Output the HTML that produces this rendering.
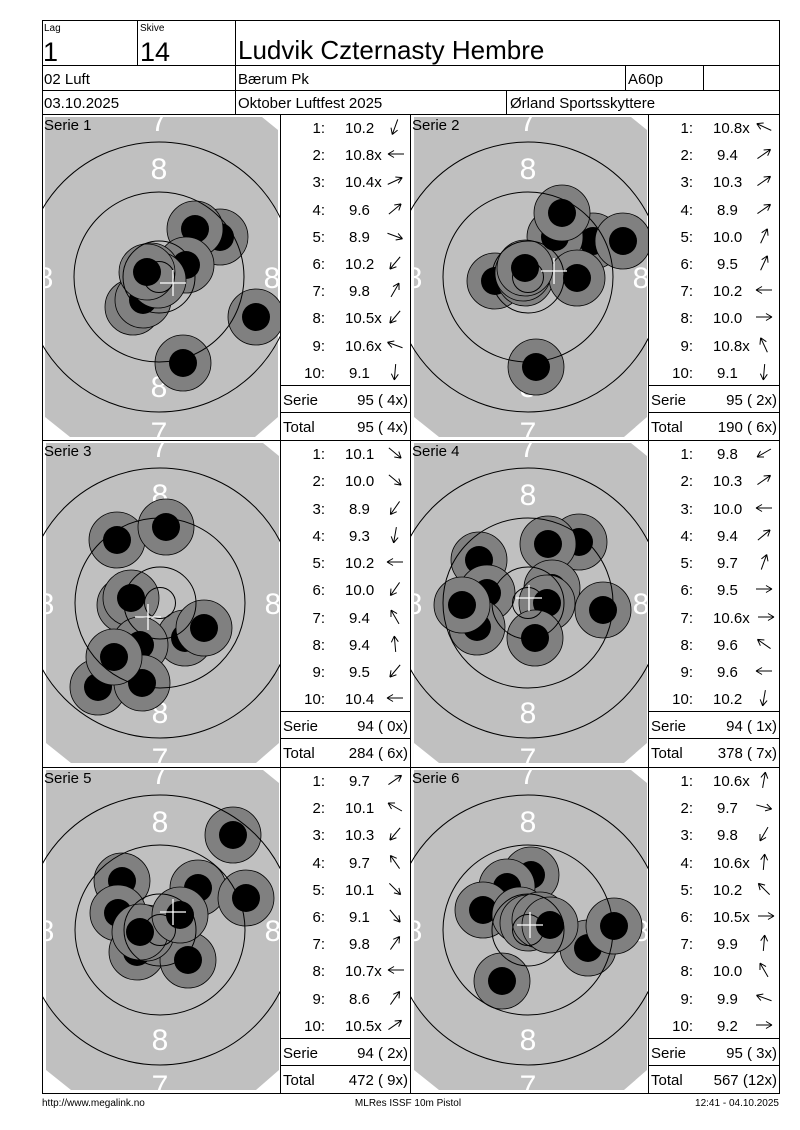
<!DOCTYPE html>
<html><head><meta charset="utf-8"><style>
body{margin:0;background:#fff}
svg{display:block;font-family:"Liberation Sans",sans-serif}
.t{font-size:15px}
.w{fill:#fff;font-size:30px;text-anchor:middle}
</style></head><body>
<svg width="800" height="1130" viewBox="0 0 800 1130" xmlns="http://www.w3.org/2000/svg">
<defs>
<symbol id="bg" overflow="visible"><polygon points="-114,-160 103,-160 119,-147 119,140 96,160 -89,160 -114,140" fill="#c0c0c0"/></symbol>
<symbol id="rg" overflow="visible"><g fill="none" stroke="#000" stroke-width="1"><circle r="135"/><circle r="85"/><circle r="36"/><circle r="15.5"/></g></symbol>
<symbol id="s" overflow="visible"><circle r="28" fill="#808080" stroke="#000" stroke-width="0.8"/><circle r="14" fill="#000"/></symbol>
<symbol id="cx" overflow="visible"><path d="M-13,0H13M0,-13V13" stroke="#fff" stroke-width="1.3"/></symbol>
<symbol id="ar" overflow="visible"><path d="M-8,0H8M8,0L2,-3.5M8,0L2,3.5" stroke="#000" stroke-width="1" fill="none"/></symbol>
</defs>
<rect width="800" height="1130" fill="#fff"/>

<!-- targets -->
<svg x="42" y="114" width="238" height="326" viewBox="42 114 238 326">
<use href="#bg" x="159" y="277"/>
<text class="w" x="159" y="131">7</text><text class="w" x="159" y="179">8</text><text class="w" x="159" y="397">8</text><text class="w" x="45" y="288">8</text><text class="w" x="272" y="288">8</text><text class="w" x="159" y="443">7</text>
<use href="#s" x="220" y="237"/><use href="#s" x="195" y="229"/><use href="#s" x="186" y="265"/><use href="#s" x="133" y="307"/><use href="#s" x="143" y="300"/><use href="#s" x="151" y="271"/><use href="#s" x="158" y="280"/><use href="#s" x="256" y="317"/><use href="#s" x="183" y="363"/><use href="#s" x="147" y="272"/>
<use href="#rg" x="159" y="277"/><use href="#cx" x="173" y="283"/>
</svg>
<svg x="410" y="114" width="238" height="326" viewBox="410 114 238 326">
<use href="#bg" x="528" y="277"/>
<text class="w" x="528" y="131">7</text><text class="w" x="528" y="179">8</text><text class="w" x="528" y="397">8</text><text class="w" x="414" y="288">8</text><text class="w" x="641" y="288">8</text><text class="w" x="528" y="443">7</text>
<use href="#s" x="593" y="241"/><use href="#s" x="555" y="237"/><use href="#s" x="562" y="213"/><use href="#s" x="623" y="241"/><use href="#s" x="495" y="281"/><use href="#s" x="525" y="278"/><use href="#s" x="523" y="273"/><use href="#s" x="577" y="278"/><use href="#s" x="525" y="268"/><use href="#s" x="536" y="367"/>
<use href="#rg" x="528" y="277"/><use href="#cx" x="554" y="271"/>
</svg>
<svg x="42" y="440" width="238" height="327" viewBox="42 440 238 327">
<use href="#bg" x="160" y="603"/>
<text class="w" x="160" y="457">7</text><text class="w" x="160" y="505">8</text><text class="w" x="160" y="723">8</text><text class="w" x="46" y="614">8</text><text class="w" x="273" y="614">8</text><text class="w" x="160" y="769">7</text>
<use href="#s" x="117" y="540"/><use href="#s" x="166" y="527"/><use href="#s" x="125" y="605"/><use href="#s" x="131" y="598"/><use href="#s" x="185" y="638"/><use href="#s" x="204" y="628"/><use href="#s" x="140" y="645"/><use href="#s" x="98" y="687"/><use href="#s" x="142" y="683"/><use href="#s" x="114" y="657"/>
<use href="#rg" x="160" y="603"/><use href="#cx" x="148" y="617"/>
</svg>
<svg x="410" y="440" width="238" height="327" viewBox="410 440 238 327">
<use href="#bg" x="528" y="603"/>
<text class="w" x="528" y="457">7</text><text class="w" x="528" y="505">8</text><text class="w" x="528" y="723">8</text><text class="w" x="414" y="614">8</text><text class="w" x="641" y="614">8</text><text class="w" x="528" y="769">7</text>
<use href="#s" x="579" y="542"/><use href="#s" x="548" y="544"/><use href="#s" x="479" y="560"/><use href="#s" x="487" y="593"/><use href="#s" x="477" y="627"/><use href="#s" x="462" y="605"/><use href="#s" x="552" y="588"/><use href="#s" x="547" y="603"/><use href="#s" x="603" y="610"/><use href="#s" x="535" y="638"/>
<use href="#rg" x="528" y="603"/><use href="#cx" x="529" y="598"/>
</svg>
<svg x="42" y="767" width="238" height="326" viewBox="42 767 238 326">
<use href="#bg" x="160" y="930"/>
<text class="w" x="160" y="784">7</text><text class="w" x="160" y="832">8</text><text class="w" x="160" y="1050">8</text><text class="w" x="46" y="941">8</text><text class="w" x="273" y="941">8</text><text class="w" x="160" y="1096">7</text>
<use href="#s" x="233" y="835"/><use href="#s" x="122" y="881"/><use href="#s" x="198" y="888"/><use href="#s" x="246" y="898"/><use href="#s" x="118" y="913"/><use href="#s" x="137" y="952"/><use href="#s" x="188" y="960"/><use href="#s" x="146" y="933"/><use href="#s" x="140" y="932"/><use href="#s" x="180" y="915"/>
<use href="#rg" x="160" y="930"/><use href="#cx" x="173" y="912"/>
</svg>
<svg x="410" y="767" width="238" height="326" viewBox="410 767 238 326">
<use href="#bg" x="528" y="930"/>
<text class="w" x="528" y="784">7</text><text class="w" x="528" y="832">8</text><text class="w" x="528" y="1050">8</text><text class="w" x="414" y="941">8</text><text class="w" x="641" y="941">8</text><text class="w" x="528" y="1096">7</text>
<use href="#s" x="531" y="875"/><use href="#s" x="507" y="887"/><use href="#s" x="483" y="910"/><use href="#s" x="520" y="915"/><use href="#s" x="588" y="948"/><use href="#s" x="614" y="926"/><use href="#s" x="502" y="981"/><use href="#s" x="528" y="923"/><use href="#s" x="540" y="920"/><use href="#s" x="550" y="925"/>
<use href="#rg" x="528" y="930"/><use href="#cx" x="530" y="925"/>
</svg>

<!-- grid lines -->
<g stroke="#000" stroke-width="1" fill="none">
<rect x="42.5" y="20.5" width="737" height="1073"/>
<path d="M42,65.5H780M42,90.5H780M42,114.5H780M42,440.5H780M42,767.5H780"/>
<path d="M137.5,20V65M235.5,20V114M625.5,65V90M703.5,65V90M506.5,90V114"/>
<path d="M280.5,114V1093M410.5,114V1093M648.5,114V1093"/>
<path d="M280,385.5H410M280,412.5H410M648,385.5H780M648,412.5H780"/>
<path d="M280,711.5H410M280,738.5H410M648,711.5H780M648,738.5H780"/>
<path d="M280,1038.5H410M280,1065.5H410M648,1038.5H780M648,1065.5H780"/>
</g>

<!-- header -->
<g fill="#000">
<text x="44" y="31" font-size="10">Lag</text><text x="140" y="31" font-size="10">Skive</text>
<text x="43" y="61" font-size="27">1</text><text x="140" y="61" font-size="27">14</text>
<text x="238" y="59" font-size="26">Ludvik Czternasty Hembre</text>
<text class="t" x="44" y="84">02 Luft</text><text class="t" x="238" y="84">Bærum Pk</text><text class="t" x="628" y="84">A60p</text>
<text class="t" x="44" y="108">03.10.2025</text><text class="t" x="238" y="108">Oktober Luftfest 2025</text><text class="t" x="510" y="108">Ørland Sportsskyttere</text>
<text class="t" x="44" y="130">Serie 1</text><text class="t" x="412" y="130">Serie 2</text>
<text class="t" x="44" y="456">Serie 3</text><text class="t" x="412" y="456">Serie 4</text>
<text class="t" x="44" y="783">Serie 5</text><text class="t" x="412" y="783">Serie 6</text>
</g>

<!-- tables -->
<g class="t" font-size="15">
<!-- S1 -->
<g text-anchor="end"><text x="325" y="133">1:</text><text x="325" y="160">2:</text><text x="325" y="187">3:</text><text x="325" y="215">4:</text><text x="325" y="242">5:</text><text x="325" y="269">6:</text><text x="325" y="296">7:</text><text x="325" y="323">8:</text><text x="325" y="351">9:</text><text x="325" y="378">10:</text></g>
<text x="345" y="133">10.2</text><text x="345" y="160">10.8x</text><text x="345" y="187">10.4x</text><text x="349" y="215">9.6</text><text x="349" y="242">8.9</text><text x="345" y="269">10.2</text><text x="349" y="296">9.8</text><text x="345" y="323">10.5x</text><text x="345" y="351">10.6x</text><text x="349" y="378">9.1</text>
<text x="283" y="405">Serie</text><text x="408" y="405" text-anchor="end">95 ( 4x)</text><text x="283" y="432">Total</text><text x="408" y="432" text-anchor="end">95 ( 4x)</text>
<!-- S2 -->
<g text-anchor="end"><text x="693" y="133">1:</text><text x="693" y="160">2:</text><text x="693" y="187">3:</text><text x="693" y="215">4:</text><text x="693" y="242">5:</text><text x="693" y="269">6:</text><text x="693" y="296">7:</text><text x="693" y="323">8:</text><text x="693" y="351">9:</text><text x="693" y="378">10:</text></g>
<text x="713" y="133">10.8x</text><text x="717" y="160">9.4</text><text x="713" y="187">10.3</text><text x="717" y="215">8.9</text><text x="713" y="242">10.0</text><text x="717" y="269">9.5</text><text x="713" y="296">10.2</text><text x="713" y="323">10.0</text><text x="713" y="351">10.8x</text><text x="717" y="378">9.1</text>
<text x="651" y="405">Serie</text><text x="777" y="405" text-anchor="end">95 ( 2x)</text><text x="651" y="432">Total</text><text x="777" y="432" text-anchor="end">190 ( 6x)</text>
<!-- S3 -->
<g text-anchor="end"><text x="325" y="459">1:</text><text x="325" y="486">2:</text><text x="325" y="514">3:</text><text x="325" y="541">4:</text><text x="325" y="568">5:</text><text x="325" y="595">6:</text><text x="325" y="623">7:</text><text x="325" y="650">8:</text><text x="325" y="677">9:</text><text x="325" y="704">10:</text></g>
<text x="345" y="459">10.1</text><text x="345" y="486">10.0</text><text x="349" y="514">8.9</text><text x="349" y="541">9.3</text><text x="345" y="568">10.2</text><text x="345" y="595">10.0</text><text x="349" y="623">9.4</text><text x="349" y="650">9.4</text><text x="349" y="677">9.5</text><text x="345" y="704">10.4</text>
<text x="283" y="731">Serie</text><text x="408" y="731" text-anchor="end">94 ( 0x)</text><text x="283" y="758">Total</text><text x="408" y="758" text-anchor="end">284 ( 6x)</text>
<!-- S4 -->
<g text-anchor="end"><text x="693" y="459">1:</text><text x="693" y="486">2:</text><text x="693" y="514">3:</text><text x="693" y="541">4:</text><text x="693" y="568">5:</text><text x="693" y="595">6:</text><text x="693" y="623">7:</text><text x="693" y="650">8:</text><text x="693" y="677">9:</text><text x="693" y="704">10:</text></g>
<text x="717" y="459">9.8</text><text x="713" y="486">10.3</text><text x="713" y="514">10.0</text><text x="717" y="541">9.4</text><text x="717" y="568">9.7</text><text x="717" y="595">9.5</text><text x="713" y="623">10.6x</text><text x="717" y="650">9.6</text><text x="717" y="677">9.6</text><text x="713" y="704">10.2</text>
<text x="651" y="731">Serie</text><text x="777" y="731" text-anchor="end">94 ( 1x)</text><text x="651" y="758">Total</text><text x="777" y="758" text-anchor="end">378 ( 7x)</text>
<!-- S5 -->
<g text-anchor="end"><text x="325" y="786">1:</text><text x="325" y="813">2:</text><text x="325" y="840">3:</text><text x="325" y="868">4:</text><text x="325" y="895">5:</text><text x="325" y="922">6:</text><text x="325" y="949">7:</text><text x="325" y="976">8:</text><text x="325" y="1004">9:</text><text x="325" y="1031">10:</text></g>
<text x="349" y="786">9.7</text><text x="345" y="813">10.1</text><text x="345" y="840">10.3</text><text x="349" y="868">9.7</text><text x="345" y="895">10.1</text><text x="349" y="922">9.1</text><text x="349" y="949">9.8</text><text x="345" y="976">10.7x</text><text x="349" y="1004">8.6</text><text x="345" y="1031">10.5x</text>
<text x="283" y="1058">Serie</text><text x="408" y="1058" text-anchor="end">94 ( 2x)</text><text x="283" y="1085">Total</text><text x="408" y="1085" text-anchor="end">472 ( 9x)</text>
<!-- S6 -->
<g text-anchor="end"><text x="693" y="786">1:</text><text x="693" y="813">2:</text><text x="693" y="840">3:</text><text x="693" y="868">4:</text><text x="693" y="895">5:</text><text x="693" y="922">6:</text><text x="693" y="949">7:</text><text x="693" y="976">8:</text><text x="693" y="1004">9:</text><text x="693" y="1031">10:</text></g>
<text x="713" y="786">10.6x</text><text x="717" y="813">9.7</text><text x="717" y="840">9.8</text><text x="713" y="868">10.6x</text><text x="713" y="895">10.2</text><text x="713" y="922">10.5x</text><text x="717" y="949">9.9</text><text x="713" y="976">10.0</text><text x="717" y="1004">9.9</text><text x="717" y="1031">9.2</text>
<text x="651" y="1058">Serie</text><text x="777" y="1058" text-anchor="end">95 ( 3x)</text><text x="651" y="1085">Total</text><text x="777" y="1085" text-anchor="end">567 (12x)</text>
</g>

<!-- arrows -->
<g>
<use href="#ar" transform="translate(395,127) rotate(110)"/><use href="#ar" transform="translate(396,154) rotate(180)"/><use href="#ar" transform="translate(395,181) rotate(-25)"/><use href="#ar" transform="translate(395,209) rotate(-40)"/><use href="#ar" transform="translate(395,236) rotate(20)"/><use href="#ar" transform="translate(395,263) rotate(130)"/><use href="#ar" transform="translate(395,290) rotate(-60)"/><use href="#ar" transform="translate(395,317) rotate(130)"/><use href="#ar" transform="translate(395,345) rotate(-160)"/><use href="#ar" transform="translate(395,372) rotate(95)"/>
<use href="#ar" transform="translate(764,127) rotate(-155)"/><use href="#ar" transform="translate(764,154) rotate(-35)"/><use href="#ar" transform="translate(764,181) rotate(-35)"/><use href="#ar" transform="translate(764,209) rotate(-35)"/><use href="#ar" transform="translate(764,236) rotate(-65)"/><use href="#ar" transform="translate(764,263) rotate(-65)"/><use href="#ar" transform="translate(764,290) rotate(180)"/><use href="#ar" transform="translate(764,317) rotate(0)"/><use href="#ar" transform="translate(764,345) rotate(-115)"/><use href="#ar" transform="translate(764,372) rotate(95)"/>
<use href="#ar" transform="translate(395,453) rotate(40)"/><use href="#ar" transform="translate(395,480) rotate(40)"/><use href="#ar" transform="translate(395,508) rotate(125)"/><use href="#ar" transform="translate(395,535) rotate(100)"/><use href="#ar" transform="translate(395,562) rotate(180)"/><use href="#ar" transform="translate(395,589) rotate(125)"/><use href="#ar" transform="translate(395,617) rotate(-120)"/><use href="#ar" transform="translate(395,644) rotate(-95)"/><use href="#ar" transform="translate(395,671) rotate(130)"/><use href="#ar" transform="translate(395,698) rotate(180)"/>
<use href="#ar" transform="translate(764,453) rotate(150)"/><use href="#ar" transform="translate(764,480) rotate(-35)"/><use href="#ar" transform="translate(764,508) rotate(180)"/><use href="#ar" transform="translate(764,535) rotate(-40)"/><use href="#ar" transform="translate(764,562) rotate(-70)"/><use href="#ar" transform="translate(764,589) rotate(0)"/><use href="#ar" transform="translate(766,617) rotate(0)"/><use href="#ar" transform="translate(764,644) rotate(-145)"/><use href="#ar" transform="translate(764,671) rotate(180)"/><use href="#ar" transform="translate(764,698) rotate(100)"/>
<use href="#ar" transform="translate(395,780) rotate(-35)"/><use href="#ar" transform="translate(395,807) rotate(-150)"/><use href="#ar" transform="translate(395,834) rotate(130)"/><use href="#ar" transform="translate(395,862) rotate(-125)"/><use href="#ar" transform="translate(395,889) rotate(45)"/><use href="#ar" transform="translate(395,916) rotate(50)"/><use href="#ar" transform="translate(395,943) rotate(-55)"/><use href="#ar" transform="translate(396,970) rotate(180)"/><use href="#ar" transform="translate(395,998) rotate(-55)"/><use href="#ar" transform="translate(395,1025) rotate(-35)"/>
<use href="#ar" transform="translate(764,780) rotate(-80)"/><use href="#ar" transform="translate(764,807) rotate(15)"/><use href="#ar" transform="translate(764,834) rotate(120)"/><use href="#ar" transform="translate(764,862) rotate(-85)"/><use href="#ar" transform="translate(764,889) rotate(-135)"/><use href="#ar" transform="translate(766,916) rotate(0)"/><use href="#ar" transform="translate(764,943) rotate(-85)"/><use href="#ar" transform="translate(764,970) rotate(-120)"/><use href="#ar" transform="translate(764,998) rotate(-160)"/><use href="#ar" transform="translate(764,1025) rotate(0)"/>
</g>

<!-- footer -->
<g font-size="10" fill="#000">
<text x="42" y="1106">http://www.megalink.no</text>
<text x="408" y="1106" text-anchor="middle">MLRes ISSF 10m Pistol</text>
<text x="779" y="1106" text-anchor="end">12:41 - 04.10.2025</text>
</g>
</svg>
</body></html>
